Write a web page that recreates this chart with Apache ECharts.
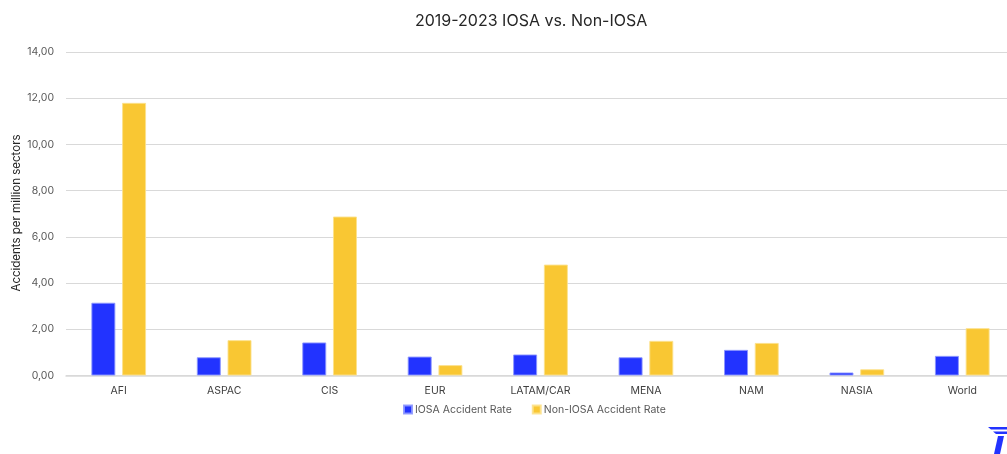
<!DOCTYPE html>
<html>
<head>
<meta charset="utf-8">
<script src="https://cdn.jsdelivr.net/npm/echarts@6/dist/echarts.min.js"></script>
<style>
html,body{margin:0;padding:0;background:#fff;}
#main{width:1007px;height:454px;}
</style>
</head>
<body>
<div id="main"></div>
<script>
const categories = ['AFI','ASPAC','CIS','EUR','LATAM/CAR','MENA','NAM','NASIA','World'];
const iosaRate = [3.15, 0.79, 1.43, 0.82, 0.91, 0.79, 1.11, 0.13, 0.85];
const nonIosaRate = [11.80, 1.53, 6.88, 0.45, 4.80, 1.50, 1.41, 0.27, 2.05];
const seriesNames = ['IOSA Accident Rate', 'Non-IOSA Accident Rate'];
const yAxisTitle = 'Accidents per million sectors';

const chart = echarts.init(document.getElementById('main'), null, {renderer:'canvas'});
const fontFam = 'Inter, "Noto Sans", sans-serif';
chart.setOption({
  animation: false,
  backgroundColor: '#ffffff',
  title: {
    text: '2019-2023 IOSA vs. Non-IOSA',
    left: 410,
    top: 8,
    textStyle: {fontFamily: fontFam, fontSize: 16, fontWeight: 'normal', color: '#262626'}
  },
  legend: {
    data: seriesNames,
    top: 399,
    left: 398,
    itemWidth: 8,
    itemHeight: 8,
    itemGap: 20,
    icon: 'rect',
    textStyle: {fontFamily: fontFam, fontSize: 10.5, color: '#595959', padding: [0,0,0,-2]}
  },
  grid: {left: 66, top: 52, width: 949, height: 323.5, containLabel: false, outerBoundsMode: 'none'},
  xAxis: {
    type: 'category',
    data: categories,
    axisTick: {show: false},
    axisLine: {show: true, lineStyle: {color: '#d9d9d9', width: 1.5}},
    axisLabel: {fontFamily: fontFam, fontSize: 10.5, color: '#404040', margin: 10}
  },
  yAxis: {
    type: 'value',
    min: 0, max: 14, interval: 2,
    axisLine: {show: false},
    axisTick: {show: false},
    splitLine: {lineStyle: {color: '#d9d9d9', width: 1}},
    axisLabel: {
      fontFamily: fontFam, fontSize: 10.5, color: '#595959', margin: 12,
      formatter: v => v.toFixed(2).replace('.', ',')
    }
  },
  series: [
    {
      name: seriesNames[0], type: 'bar', data: iosaRate,
      barWidth: 24, barGap: '28%',
      itemStyle: {color: '#2233ff', borderColor: 'rgba(140,150,255,0.9)', borderWidth: 1}
    },
    {
      name: seriesNames[1], type: 'bar', data: nonIosaRate,
      barWidth: 24,
      itemStyle: {color: '#f9c733', borderColor: 'rgba(252,225,140,0.9)', borderWidth: 1}
    }
  ],
  graphic: [
    {type: 'text', x: 17, y: 213, rotation: Math.PI / 2,
     style: {text: yAxisTitle, fontFamily: fontFam, fontSize: 11.5, fill: '#262626', align: 'center', verticalAlign: 'middle'}},
    {type: 'polygon', shape: {points: [[988,427],[1007,427],[1007,429.5],[991,429.5]]}, style: {fill: '#2233ff'}},
    {type: 'polygon', shape: {points: [[993,431.5],[1007,431.5],[1007,434],[996,434]]}, style: {fill: '#2233ff'}},
    {type: 'polygon', shape: {points: [[998,436],[1004,436],[1000,454],[994,454]]}, style: {fill: '#2233ff'}}
  ]
});
</script>
</body>
</html>
